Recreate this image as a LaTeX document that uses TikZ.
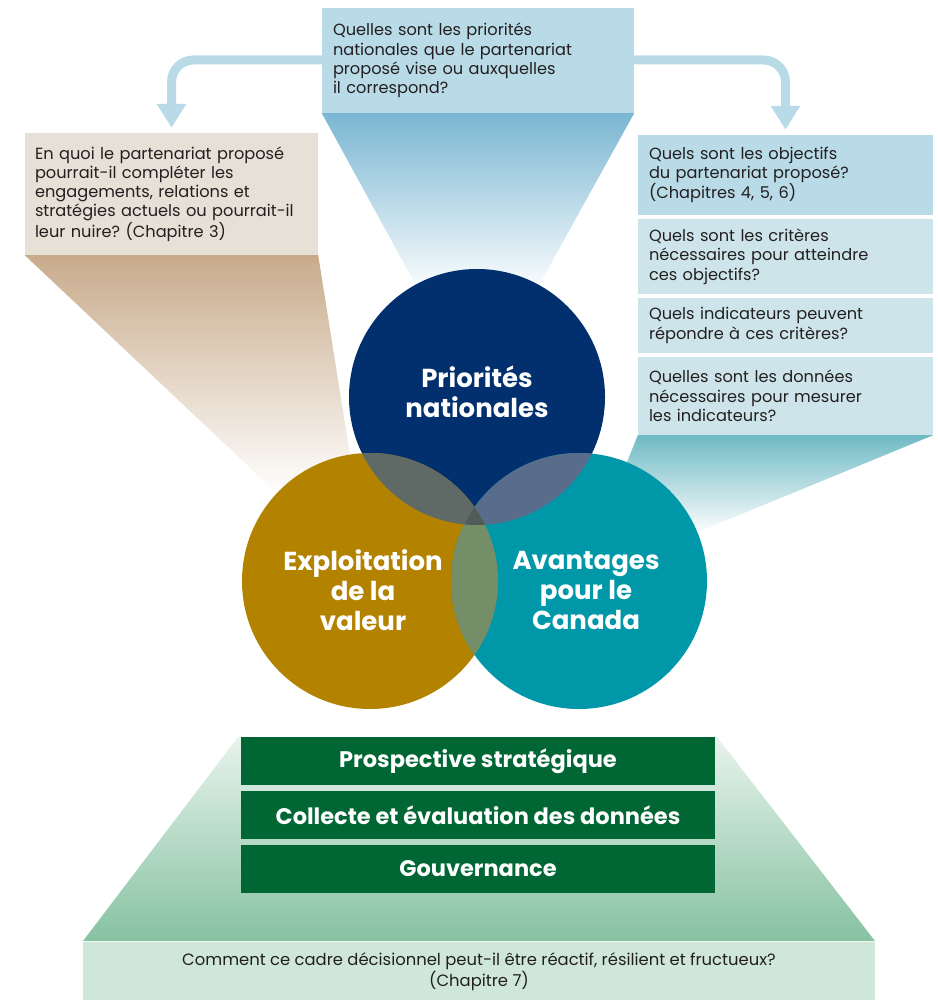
\documentclass[tikz,border=0pt]{standalone}
\usepackage{fontspec}
\setmainfont{Poppins}
\frenchspacing
\usetikzlibrary{arrows.meta}
\definecolor{qblue}{HTML}{B9DBE8}
\definecolor{qlight}{HTML}{CDE5EA}
\definecolor{qtan}{HTML}{E7E0D6}
\definecolor{fblue}{HTML}{7AB6D2}
\definecolor{ftan}{HTML}{C8AB8B}
\definecolor{fteal}{HTML}{6FBAC4}
\definecolor{navy}{HTML}{022F6E}
\definecolor{gold}{HTML}{B38300}
\definecolor{teal}{HTML}{0098A8}
\definecolor{ovtl}{HTML}{5F6966}
\definecolor{ovtr}{HTML}{5A6C8C}
\definecolor{ovlr}{HTML}{748E68}
\definecolor{ovc}{HTML}{505C5A}
\definecolor{dgreen}{HTML}{006633}
\definecolor{lgreen}{HTML}{CFE7DA}
\definecolor{mgreen}{HTML}{86C2A1}
\definecolor{pgreen}{HTML}{E8F3EC}
\definecolor{txt}{HTML}{231F20}
\tikzset{
  qbox/.style={rectangle, inner xsep=11pt, inner ysep=0pt, align=left, text=txt,
    font=\fontsize{16.2}{19.3}\selectfont\frenchspacing},
  circ/.style={circle, minimum size=256pt, inner sep=0pt},
  ctext/.style={align=center, text=white, font=\fontsize{26}{30}\selectfont\bfseries},
  gbox/.style={rectangle, fill=dgreen, minimum width=474pt, minimum height=48pt,
    inner sep=0pt, text=white, font=\fontsize{22.5}{24}\selectfont\bfseries},
  band/.style={draw=qblue, line width=9pt, rounded corners=22pt,
    -{Triangle[length=24pt,width=28pt]}, shorten >=5pt},
}
\begin{document}
\begin{tikzpicture}[x=1pt,y=-1pt]
\useasboundingbox (0,0) rectangle (937,1000);

% question boxes
\node[qbox, fill=qblue, minimum width=312pt, minimum height=105pt, text width=290pt] (qtop) at (478,60.5)
  {Quelles sont les priorités\\nationales que le partenariat\\proposé vise ou auxquelles\\il correspond?};
\node[qbox, fill=qtan, minimum width=293pt, minimum height=122pt, text width=273pt, inner xsep=10pt] (ql) at (171.5,194)
  {En quoi le partenariat proposé\\pourrait-il compléter les\\engagements, relations et\\stratégies actuels ou pourrait-il\\leur nuire? (Chapitre 3)};
\node[qbox, fill=qblue, minimum width=295pt, minimum height=80pt, text width=273pt] (r1) at (785.5,175)
  {Quels sont les objectifs\\du partenariat proposé?\\(Chapitres 4, 5, 6)};
\node[qbox, fill=qlight, minimum width=295pt, minimum height=75pt, text width=273pt] (r2) at (785.5,256.5)
  {Quels sont les critères\\nécessaires pour atteindre\\ces objectifs?};
\node[qbox, fill=qlight, minimum width=295pt, minimum height=55pt, text width=273pt] (r3) at (785.5,325.5)
  {Quels indicateurs peuvent\\répondre à ces critères?};
\node[qbox, fill=qlight, minimum width=295pt, minimum height=78pt, text width=273pt] (r4) at (785.5,396)
  {Quelles sont les données\\nécessaires pour mesurer\\les indicateurs?};

% arrows from top box
\draw[band] (qtop.west |- 0,60) -| (ql.north);
\draw[band] (qtop.east |- 0,60) -| (r1.north);

% circle centres
\coordinate (cpn) at (477,397);
\coordinate (cev) at (370,581);
\coordinate (cac) at (579,581);

% funnels
\begin{scope}
  \clip (qtop.south west) -- (qtop.south east) -- (cpn) -- cycle;
  \shade[top color=fblue, bottom color=white] (300,113) rectangle (660,295);
\end{scope}
\begin{scope}
  \clip (ql.south west) -- (ql.south east) -- (cev) -- cycle;
  \shade[top color=ftan, bottom color=white] (20,255) rectangle (380,495);
\end{scope}
\begin{scope}
  \clip (r4.south west) -- (r4.south east) -- (cac) -- cycle;
  \shade[top color=fteal, bottom color=white] (570,435) rectangle (940,535);
\end{scope}

% circles
\node[circ, fill=navy] (pn) at (cpn) {};
\node[circ, fill=gold] (ev) at (cev) {};
\node[circ, fill=teal] (ac) at (cac) {};
\begin{scope}
  \clip (cpn) circle (128);
  \fill[ovtl] (cev) circle (128);
  \fill[ovtr] (cac) circle (128);
\end{scope}
\begin{scope}
  \clip (cev) circle (128);
  \fill[ovlr] (cac) circle (128);
\end{scope}
\begin{scope}
  \clip (cpn) circle (128);
  \clip (cev) circle (128);
  \fill[ovc] (cac) circle (128);
\end{scope}
\node[ctext] (tpn) at (477,392) {Priorités\\nationales};
\node[ctext] (tev) at (363,590) {Exploitation\\de la\\valeur};
\node[ctext] (tac) at (586,590) {Avantages\\pour le\\Canada};

% green base
\coordinate (gtl) at (238,737);
\coordinate (gtr) at (717,737);
\coordinate (gbl) at (83,941);
\coordinate (gbr) at (875,941);
\shade[top color=pgreen, bottom color=mgreen] (gtl) -- (gtr) -- (gbr) -- (gbl) -- cycle;
\node[gbox] (g1) at (478,761) {Prospective stratégique};
\node[gbox] (g2) at (478,815) {Collecte et évaluation des données};
\node[gbox] (g3) at (478,869) {Gouvernance};
\node[rectangle, fill=lgreen, minimum width=792pt, minimum height=59pt, inner sep=0pt, align=center,
  text=txt, font=\fontsize{16.4}{18}\selectfont] (qb) at (479,971.5)
  {Comment ce cadre décisionnel peut-il être réactif, résilient et fructueux?\\(Chapitre 7)};
\end{tikzpicture}
\end{document}
